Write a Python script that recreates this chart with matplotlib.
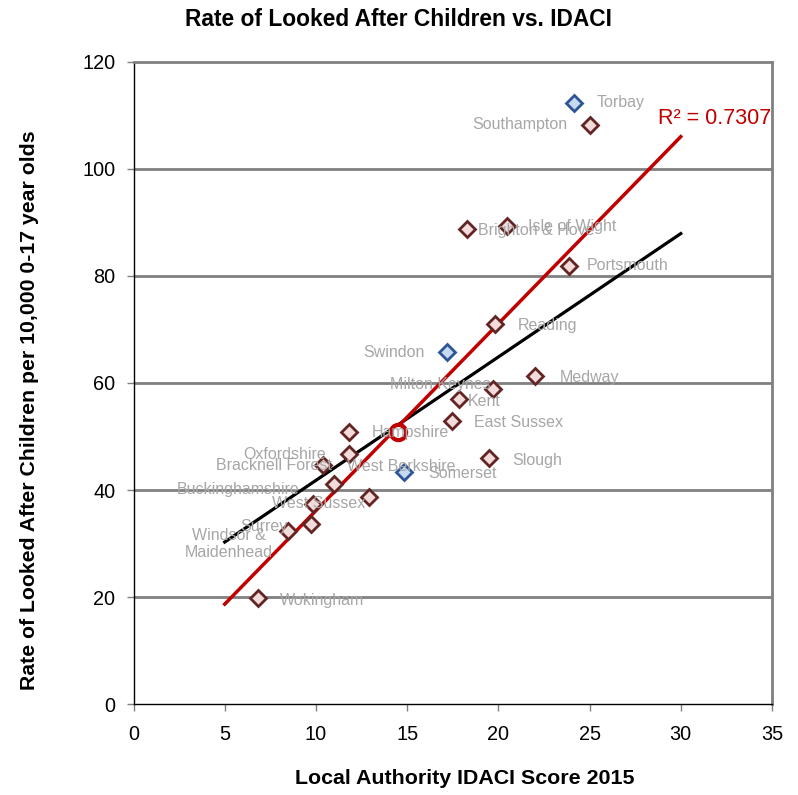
import matplotlib
matplotlib.use("Agg")
import matplotlib.pyplot as plt

plt.rcParams['font.family'] = ['Liberation Sans', 'DejaVu Sans']

# local authorities (pink diamonds)
names = ['Southampton', 'Brighton & Hove', 'Isle of Wight', 'Portsmouth', 'Reading',
         'Medway', 'Milton Keynes', 'Kent', 'East Sussex', 'Hampshire', 'Oxfordshire',
         'West Berkshire', 'Bracknell Forest', 'Slough', 'Buckinghamshire', 'West Sussex',
         'Surrey', 'Windsor &\nMaidenhead', 'Wokingham']
idaci = [25.03, 18.30, 20.46, 23.86, 19.82, 22.03, 19.73, 17.85, 17.45, 11.81, 11.81,
         10.41, 11.01, 19.51, 9.82, 12.91, 9.73, 8.45, 6.81]
lac_rate = [108.2, 88.7, 89.4, 81.9, 71.0, 61.3, 58.9, 57.1, 52.9, 50.9, 46.7,
            44.7, 41.1, 45.9, 37.4, 38.7, 33.6, 32.4, 19.8]

# comparator authorities (blue diamonds)
comp_names = ['Torbay', 'Swindon', 'Somerset']
comp_idaci = [24.13, 17.20, 14.85]
comp_rate = [112.3, 65.7, 43.3]

# average point (red circle)
avg_idaci = [14.48]
avg_rate = [50.9]

# trendlines
trend_x = [5, 30]
trend_red = [18.7, 106.0]
trend_black = [30.3, 87.9]
r2_text = 'R² = 0.7307'

# label offsets in pixels (dx, dy, ha)
lab_pos = [(-23, 0, 'right'), (11, -1, 'left'), (21, -1, 'left'), (18, 0, 'left'),
           (23, -1, 'left'), (24, -1, 'left'), (-3, 4, 'right'), (9, -3, 'left'),
           (22, -1, 'left'), (23, -1, 'left'), (-23, 0, 'right'), (24, -2, 'left'),
           (-2, 19, 'right'), (23, -2, 'left'), (-13, 15, 'right'), (-4, -6, 'right'),
           (-23, -2, 'right'), (-15, -13, 'right'), (22, -2, 'left')]
comp_pos = [(23, 0, 'left'), (-23, 0, 'right'), (24, -1, 'left')]

fig = plt.figure(figsize=(7.98, 7.95), dpi=100)
ax = fig.add_axes([0.1673, 0.1141, 0.8001, 0.8083])

ax.set_xlim(0, 35)
ax.set_ylim(0, 120)
ax.set_xticks(range(0, 36, 5))
ax.set_yticks(range(0, 121, 20))
ax.tick_params(axis='both', labelsize=14.3, color='#808080', length=5, width=1)
ax.tick_params(axis='y', pad=8)
ax.tick_params(axis='x', pad=10)

for v in range(20, 120, 20):
    ax.axhline(v, color='#808080', lw=2, zorder=1)

for s in ['top', 'right']:
    ax.spines[s].set_color('#808080')
    ax.spines[s].set_linewidth(2)
for s in ['left', 'bottom']:
    ax.spines[s].set_color('black')
    ax.spines[s].set_linewidth(1)

ax.plot(trend_x, trend_black, color='black', lw=2.3, zorder=3)
ax.plot(trend_x, trend_red, color='#C00000', lw=2.5, zorder=3)

ax.plot(idaci, lac_rate, 'D', ms=8, mfc='#F2DCDB', mec='#632523', mew=2, ls='none', zorder=4)
ax.plot(comp_idaci, comp_rate, 'D', ms=8, mfc='#C5D9F1', mec='#2F5597', mew=2, ls='none', zorder=4)
ax.plot(avg_idaci, avg_rate, 'o', ms=11, mfc='white', mec='#C00000', mew=3, ls='none', zorder=5)

for n, x, y, (dx, dy, ha) in zip(names + comp_names, idaci + comp_idaci,
                                  lac_rate + comp_rate, lab_pos + comp_pos):
    ax.annotate(n, (x, y), xytext=(dx, dy), textcoords='offset pixels',
                ha=ha, va='center', fontsize=11.5, color='#A6A6A6',
                multialignment='center', zorder=6)

ax.annotate(r2_text, (trend_x[1], trend_red[1]), xytext=(-23, 18), textcoords='offset pixels',
            ha='left', va='center', fontsize=15.5, color='#C00000', zorder=6)

fig.text(0.4994, 1 - 20 / 795, 'Rate of Looked After Children vs. IDACI',
         ha='center', va='center', fontsize=16.4, fontweight='bold')
fig.text(464.5 / 798, 1 - 779 / 795, 'Local Authority IDACI Score 2015',
         ha='center', va='center', fontsize=15.4, fontweight='bold')
fig.text(30 / 798, 1 - 410 / 795, 'Rate of Looked After Children per 10,000 0-17 year olds',
         ha='center', va='center', rotation=90, fontsize=15.3, fontweight='bold')

fig.savefig('out.png', dpi=100)
